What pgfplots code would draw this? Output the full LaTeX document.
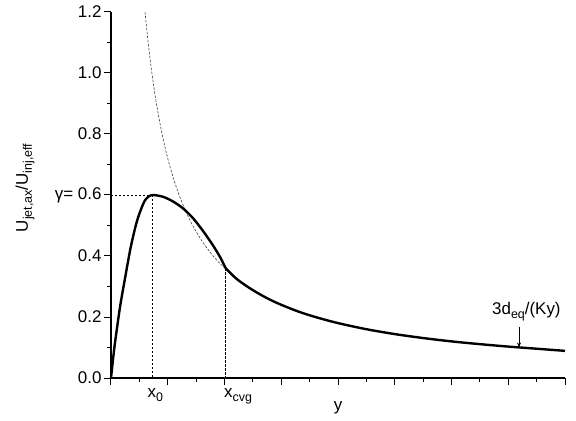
\documentclass[border=0pt]{standalone}
\usepackage{fontspec}
\setmainfont{Liberation Sans}
\usepackage{pgfplots}
\pgfplotsset{compat=1.18}
\usetikzlibrary{arrows.meta}
\newcommand\sub[1]{\raisebox{-0.45ex}{\fontsize{12.5}{14}\selectfont #1}}
\begin{document}
\begin{tikzpicture}[font=\fontsize{17}{20}\selectfont]
\useasboundingbox (-111bp,-43bp) rectangle (465bp,378bp);
\begin{axis}[
  at={(0,0)}, anchor=origin,
  width=454bp, height=366bp, scale only axis,
  xmin=0, xmax=8, ymin=0, ymax=1.2,
  enlargelimits=false, clip=false,
  axis lines=left,
  axis line style={-, line width=1.3bp},
  tick align=outside,
  major tick length=7bp, minor tick length=4bp,
  tick style={black, line width=1bp},
  xtick={0,1,...,8}, xticklabels={},
  minor xtick={0.5,1.5,...,7.5},
  ytick={0,0.2,0.4,0.6,0.8,1.0,1.2},
  yticklabels={0.0,0.2,0.4,{γ= 0.6},0.8,1.0,1.2},
  minor ytick={0.1,0.3,0.5,0.7,0.9,1.1},
  yticklabel style={font=\fontsize{17}{20}\selectfont, xshift=1bp},
]
% dashed guide lines
\addplot[black, line width=0.7bp, dash pattern=on 2.5bp off 1.5bp] coordinates {(0,0.6) (0.734,0.6)};
\addplot[black, line width=0.7bp, dash pattern=on 2.5bp off 1.5bp] coordinates {(0.734,0.6) (0.734,0)};
\addplot[black, line width=0.7bp, dash pattern=on 2.5bp off 1.5bp] coordinates {(2.02,0.36) (2.02,0)};
% far-field asymptote 3d/(Ky)
\addplot[black!75, line width=0.6bp, dash pattern=on 2.5bp off 1.5bp, smooth] coordinates {
(0.6,1.2) (0.65,1.108) (0.7,1.029) (0.75,0.96) (0.8,0.9) (0.9,0.8) (1.0,0.72) (1.1,0.655) (1.2,0.6) (1.3,0.554) (1.4,0.514) (1.5,0.48) (1.6,0.45) (1.7,0.424) (1.8,0.4) (1.9,0.379) (2.02,0.358)};
% main curve
\addplot[black, line width=2.4bp, smooth, tension=0.45] coordinates {
(0,0) (0.035,0.06) (0.07,0.115) (0.16,0.234) (0.25,0.33) (0.34,0.422) (0.42,0.488) (0.48,0.528) (0.55,0.563) (0.6,0.583) (0.67,0.596) (0.745,0.6) (0.92,0.594) (1.1,0.578) (1.27,0.556) (1.45,0.523) (1.63,0.48) (1.8,0.434) (1.93,0.394) (2.02,0.36)};
\addplot[black, line width=2.4bp, smooth] coordinates {
(2.02,0.36) (2.2,0.327) (2.4,0.3) (2.6,0.277) (2.8,0.257) (3.0,0.24) (3.3,0.218) (3.6,0.2) (4.0,0.18) (4.5,0.16) (5.0,0.144) (5.5,0.131) (6.0,0.12) (6.5,0.111) (7.0,0.103) (7.5,0.096) (8.0,0.089)};
% arrow and label
\draw[-{Stealth[length=5bp,width=4bp]}, line width=0.8bp] (axis cs:7.19,0.168) -- (axis cs:7.19,0.1);
\node[anchor=base] at (axis cs:7.32,0.207) {3d\sub{eq}/(Ky)};
% x-axis labels
\node[anchor=base] at ([yshift=-19bp]axis cs:0.78,0) {x\sub{0}};
\node[anchor=base west] at ([yshift=-19bp, xshift=-5bp]axis cs:2.02,0) {x\sub{cvg}};
\node[anchor=base] at ([yshift=-32bp]axis cs:4.0,0) {y};
% y-axis label
\node[rotate=90, anchor=center] at ([xshift=-86bp]axis cs:0,0.623) {U\sub{jet,ax}/U\sub{inj,eff}};
\end{axis}
\end{tikzpicture}
\end{document}
